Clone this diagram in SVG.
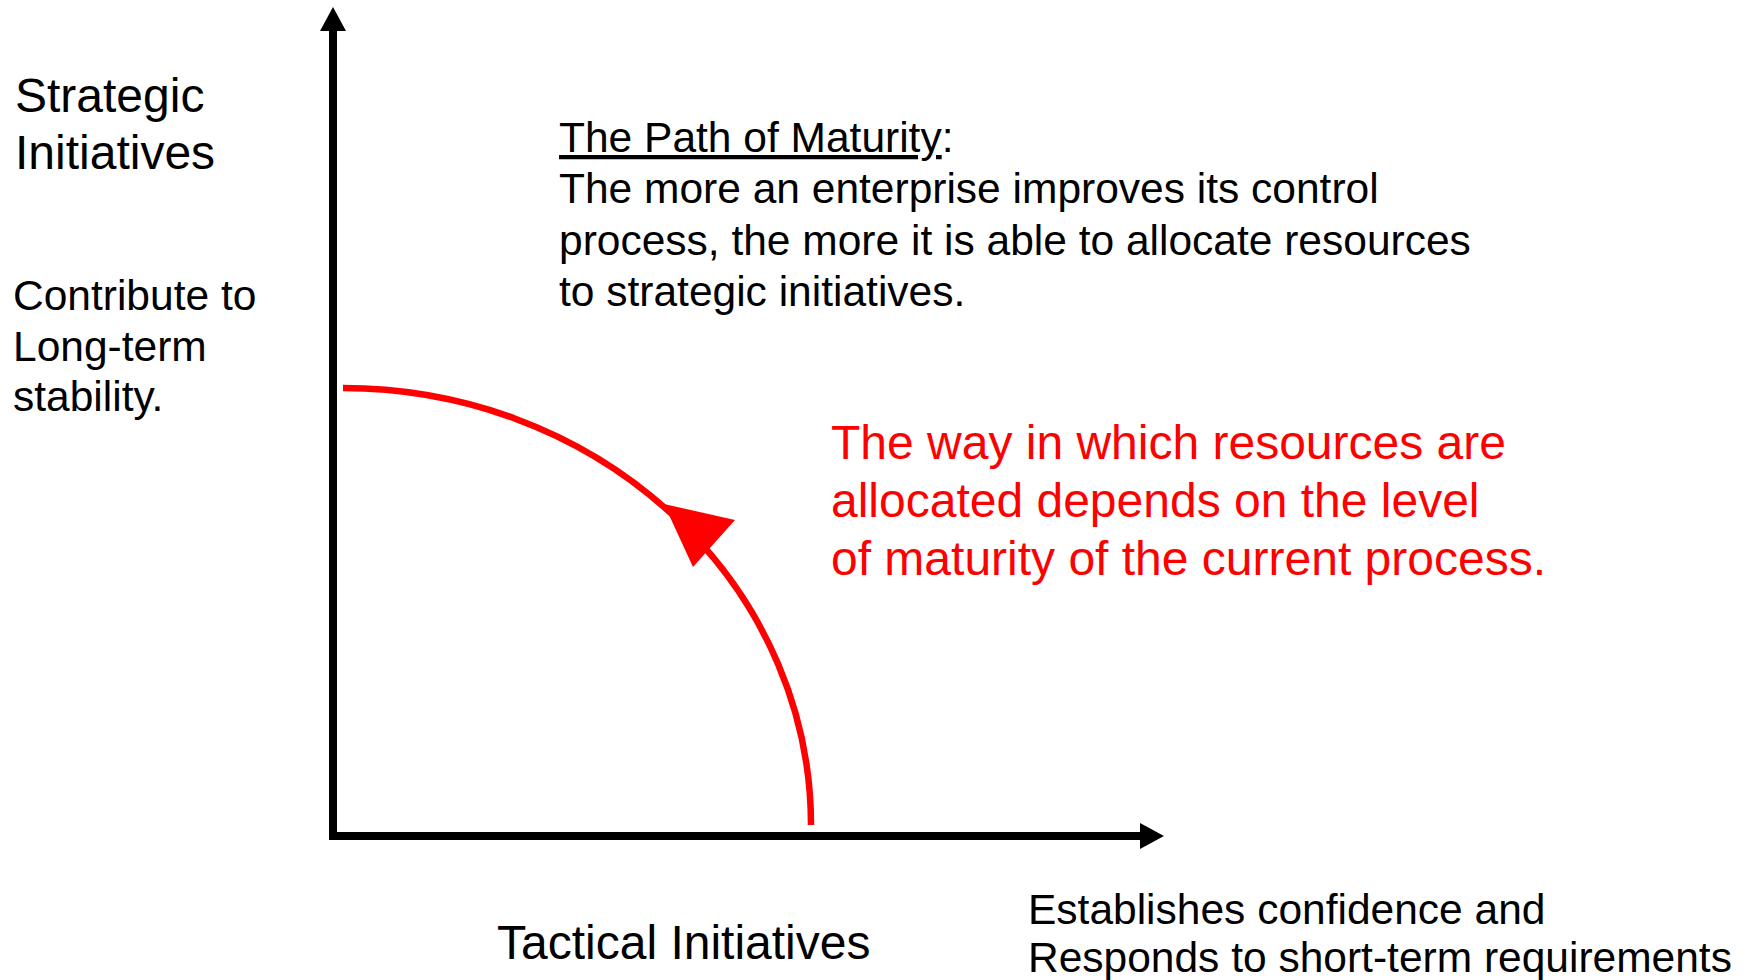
<svg xmlns="http://www.w3.org/2000/svg" width="1752" height="980" viewBox="0 0 1752 980">
  <style>
    .lbl { font-family: "Liberation Sans", Arial, sans-serif; fill: #000; }
    .big { font-size: 48px; }
    .mid { font-size: 42.5px; }
    .red { fill: #ff0000; }
    .axis { stroke: #000; stroke-width: 8; fill: none; }
    .path { stroke: #ff0000; stroke-width: 6.5; fill: none; }
  </style>
  <defs>
    <marker id="axisHead" markerUnits="userSpaceOnUse" markerWidth="26" markerHeight="26" refX="1" refY="13" orient="auto">
      <path d="M0,0 L24,13 L0,26 Z" fill="#000"/>
    </marker>
  </defs>
  <rect width="1752" height="980" fill="#fff"/>

  <!-- axes and the maturity curve -->
  <g id="connectors">
    <line class="axis" x1="333" y1="840" x2="333" y2="30" marker-end="url(#axisHead)"/>
    <line class="axis" x1="329" y1="836" x2="1141" y2="836" marker-end="url(#axisHead)"/>
    <path class="path" d="M811,825 A468,437 0 0 0 343,388"/>
    <polygon points="664,504 735,520 693,567" fill="#ff0000"/>
  </g>

  <g id="strategic-title">
    <text class="lbl big" x="15" y="112">Strategic</text>
    <text class="lbl big" x="15" y="169">Initiatives</text>
  </g>

  <g id="strategic-note">
    <text class="lbl mid" x="13" y="310">Contribute to</text>
    <text class="lbl mid" x="13" y="361">Long-term</text>
    <text class="lbl mid" x="13" y="411">stability.</text>
  </g>

  <g id="maturity-note">
    <text class="lbl mid" x="559" y="152"><tspan text-decoration="underline">The Path of Maturity</tspan>:</text>
    <text class="lbl mid" x="559" y="203">The more an enterprise improves its control</text>
    <text class="lbl mid" x="559" y="255">process, the more it is able to allocate resources</text>
    <text class="lbl mid" x="559" y="306">to strategic initiatives.</text>
  </g>

  <g id="allocation-note">
    <text class="lbl big red" x="831" y="459">The way in which resources are</text>
    <text class="lbl big red" x="831" y="517">allocated depends on the level</text>
    <text class="lbl big red" x="831" y="575">of maturity of the current process.</text>
  </g>

  <g id="tactical-title">
    <text class="lbl big" x="497" y="959">Tactical Initiatives</text>
  </g>

  <g id="tactical-note">
    <text class="lbl mid" x="1028" y="924">Establishes confidence and</text>
    <text class="lbl mid" x="1028" y="972">Responds to short-term requirements</text>
  </g>
</svg>
